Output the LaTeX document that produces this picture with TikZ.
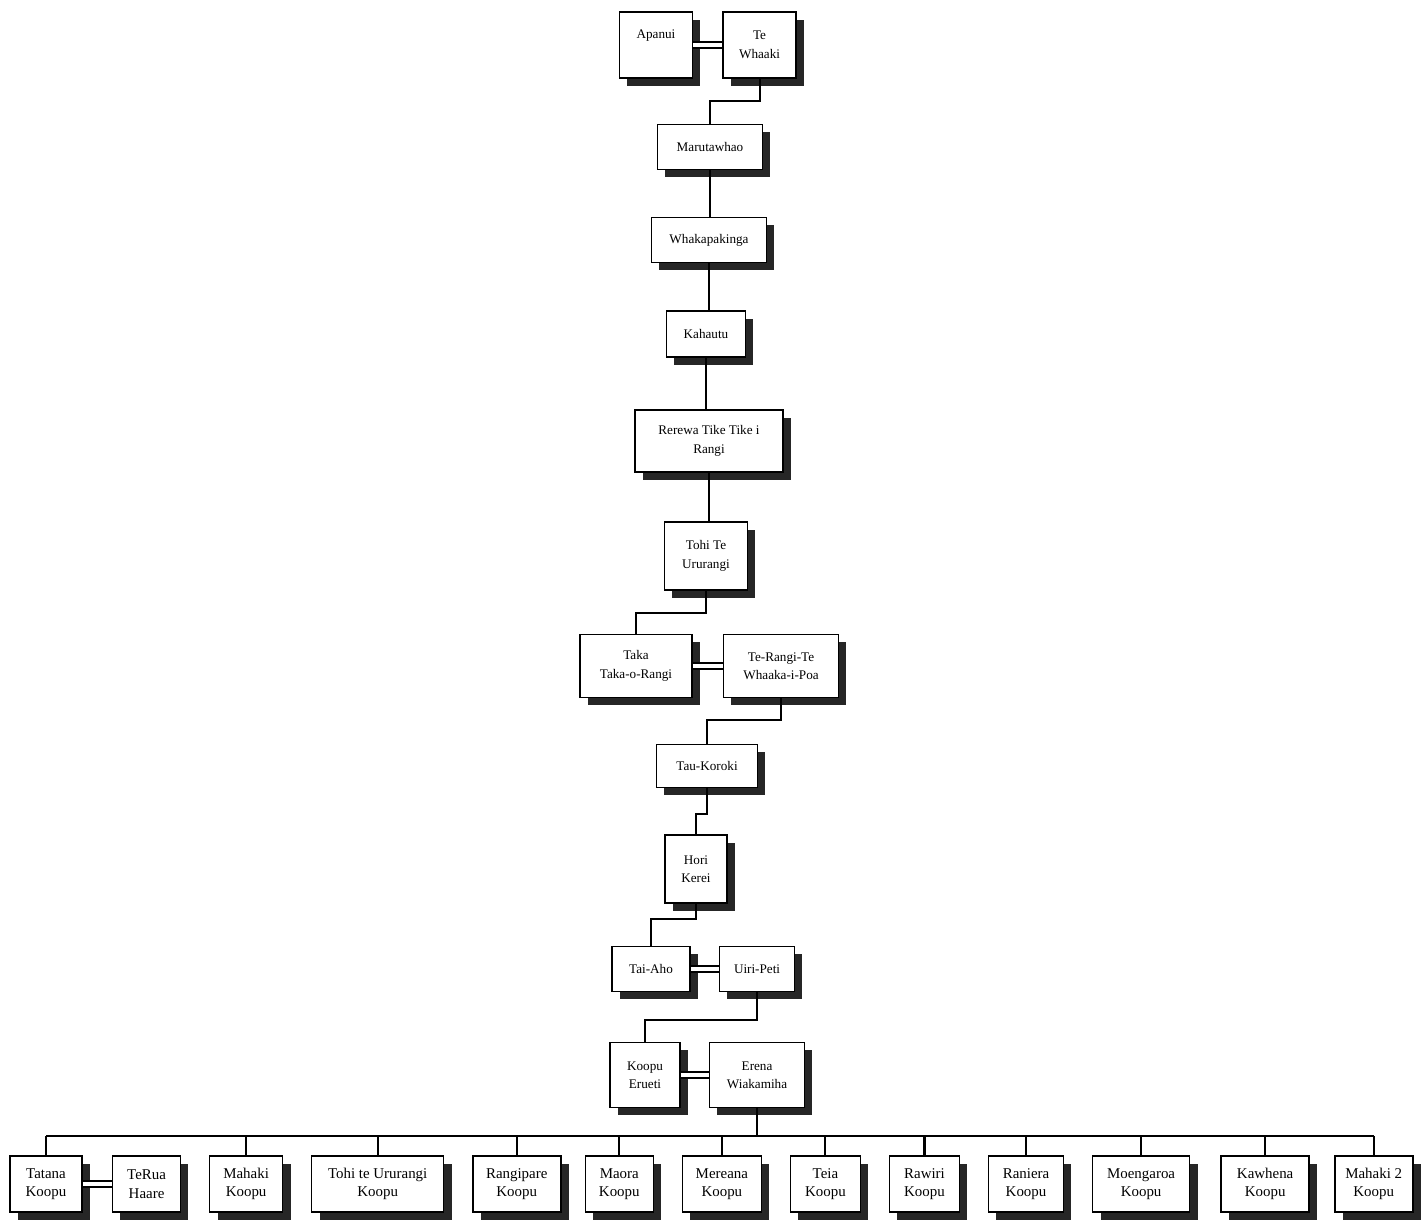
\documentclass[tikz,border=0pt]{standalone}
\usepackage{fontspec}
\setmainfont{Liberation Serif}
\usepackage{tikz}
\usetikzlibrary{positioning,shadows}

\begin{document}
\begin{tikzpicture}[x=0.02cm,y=-0.02cm,node distance=0.55cm,
      every node/.style={font=\fontsize{7.5}{10.5}\selectfont},
      person/.style={draw,line width=0.9pt,fill=white,align=center,inner sep=1pt,
        drop shadow={shadow xshift=4.5pt,shadow yshift=-4.5pt,fill=black!85,opacity=1}},
      kid/.style={person,minimum height=1.12cm,font=\fontsize{8.5}{10.5}\selectfont},
      link/.style={line width=1.2pt},
      wed/.style={double,double distance=2.2pt,line width=1pt}]
      \useasboundingbox (0,0) rectangle (1423,1230);
      % line of descent
      \node[person,minimum width=1.46cm,minimum height=1.32cm] (apanui) at (656,45) {Apanui\\[2pt]};
      \node[person,minimum width=1.46cm,minimum height=1.32cm,right=0.58cm of apanui] (whaaki) {Te\\Whaaki};
      \node[person,minimum width=2.1cm,minimum height=0.9cm] (maru) at (710,147) {Marutawhao};
      \node[person,minimum width=2.3cm,minimum height=0.9cm] (whaka) at (709,240) {Whakapakinga};
      \node[person,minimum width=1.58cm,minimum height=0.92cm] (kahautu) at (706,334) {Kahautu};
      \node[person,minimum width=2.96cm,minimum height=1.24cm] (rerewa) at (709,441) {Rerewa Tike Tike i\\Rangi};
      \node[person,minimum width=1.66cm,minimum height=1.36cm] (tohi) at (706,556) {Tohi Te\\Ururangi};
      \node[person,minimum width=2.24cm,minimum height=1.26cm] (taka) at (636,666) {Taka\\Taka-o-Rangi};
      \node[person,minimum width=2.3cm,minimum height=1.26cm,right=0.6cm of taka] (terangi) {Te-Rangi-Te\\Whaaka-i-Poa};
      \node[person,minimum width=2.02cm,minimum height=0.86cm] (taukoroki) at (707,766) {Tau-Koroki};
      \node[person,minimum width=1.24cm,minimum height=1.36cm] (hori) at (696,869) {Hori\\Kerei};
      \node[person,minimum width=1.56cm,minimum height=0.9cm] (taiaho) at (651,969) {Tai-Aho};
      \node[person,minimum width=1.5cm,minimum height=0.9cm,right=0.56cm of taiaho] (uiripeti) {Uiri-Peti};
      \node[person,minimum width=1.4cm,minimum height=1.3cm] (koopu) at (645,1075) {Koopu\\Erueti};
      \node[person,minimum width=1.9cm,minimum height=1.3cm,right=0.56cm of koopu] (erena) {Erena\\Wiakamiha};
      % children
      \node[kid,minimum width=1.44cm] (tatana) at (46,1184) {Tatana\\Koopu};
      \node[kid,minimum width=1.36cm,right=0.58cm of tatana] (terua) {TeRua\\Haare};
      \node[kid,minimum width=1.46cm,right=of terua] (mahaki) {Mahaki\\Koopu};
      \node[kid,minimum width=2.64cm,right=of mahaki] (tohik) {Tohi te Ururangi\\Koopu};
      \node[kid,minimum width=1.76cm,right=of tohik] (rangipare) {Rangipare\\Koopu};
      \node[kid,minimum width=1.36cm,right=0.46cm of rangipare] (maora) {Maora\\Koopu};
      \node[kid,minimum width=1.58cm,right=of maora] (mereana) {Mereana\\Koopu};
      \node[kid,minimum width=1.4cm,right=of mereana] (teia) {Teia\\Koopu};
      \node[kid,minimum width=1.4cm,right=of teia] (rawiri) {Rawiri\\Koopu};
      \node[kid,minimum width=1.5cm,right=of rawiri] (raniera) {Raniera\\Koopu};
      \node[kid,minimum width=1.94cm,right=of raniera] (moengaroa) {Moengaroa\\Koopu};
      \node[kid,minimum width=1.76cm,right=0.6cm of moengaroa] (kawhena) {Kawhena\\Koopu};
      \node[kid,minimum width=1.56cm,right=0.48cm of kawhena] (mahakitwo) {Mahaki 2\\Koopu};
      % connectors
      \draw[wed] (apanui) -- (whaaki);
      \draw[link] (whaaki.south) -- ++(0,22) -| (maru.north);
      \draw[link] (maru.south) -- (maru.south |- whaka.north);
      \draw[link] (whaka.south) -- (whaka.south |- kahautu.north);
      \draw[link] (kahautu.south) -- (kahautu.south |- rerewa.north);
      \draw[link] (rerewa.south) -- (rerewa.south |- tohi.north);
      \draw[link] (tohi.south) -- ++(0,22) -| (taka.north);
      \draw[wed] (taka) -- (terangi);
      \draw[link] (terangi.south) -- ++(0,22) -| (taukoroki.north);
      \draw[link] (taukoroki.south) -- ++(0,26) -| (hori.north);
      \draw[link] (hori.south) -- ++(0,15) -| (taiaho.north);
      \draw[wed] (taiaho) -- (uiripeti);
      \draw[link] (uiripeti.south) -- ++(0,28) -| (koopu.north);
      \draw[wed] (koopu) -- (erena);
      \coordinate (bar) at (0,1136);
      \draw[link] (erena.south) -- (erena.south |- bar);
      \draw[link] (tatana.north |- bar) -- (mahakitwo.north |- bar);
      \foreach \k in {tatana,mahaki,tohik,rangipare,maora,mereana,teia,rawiri,raniera,moengaroa,kawhena,mahakitwo}
        \draw[link] (\k.north |- bar) -- (\k.north);
      \draw[wed] (tatana) -- (terua);
    \end{tikzpicture}
\end{document}
